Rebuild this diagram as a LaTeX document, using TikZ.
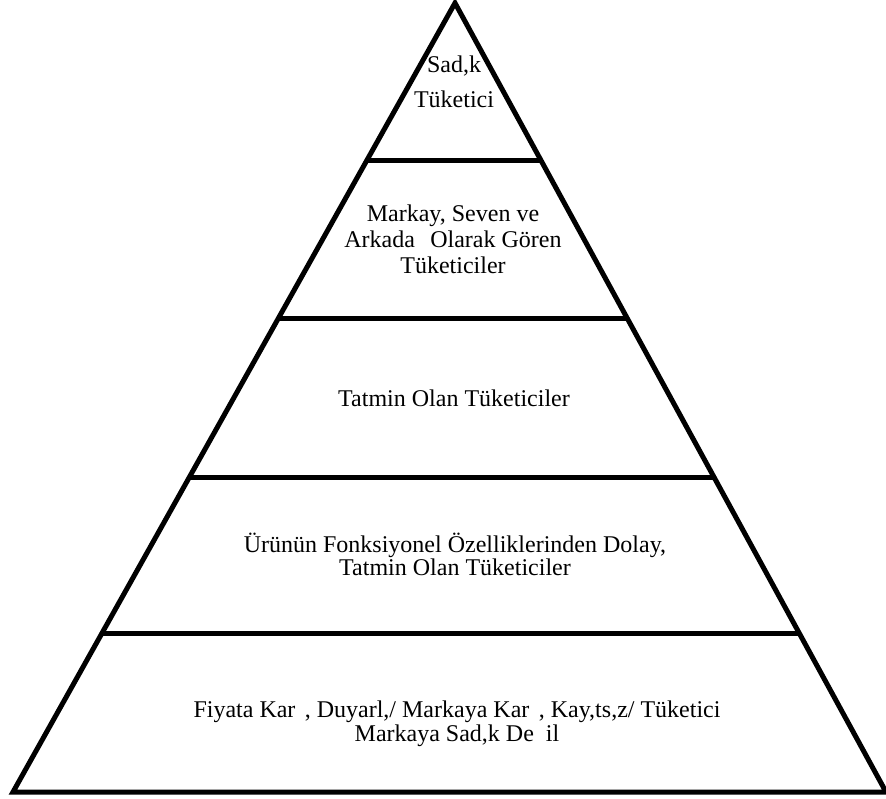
\documentclass[tikz,border=0pt]{standalone}
\usepackage{fontspec}
\setmainfont{Liberation Serif}
\usetikzlibrary{calc}
\begin{document}
\begin{tikzpicture}[x=1pt,y=-1pt,
  edge/.style={line width=5pt,line join=miter},
  tier/.style={line width=5pt},
  label/.style={align=center,inner sep=0pt,font=\fontsize{24}{25}\selectfont}]
\useasboundingbox (0,0) rectangle (886,798);
% outline of the pyramid
\coordinate (apex) at (455,3);
\coordinate (bl) at (13,792);
\coordinate (br) at (886,792);
\draw[edge] (bl) -- (apex) -- (br) -- cycle;
% dividing lines between the tiers
\foreach \n/\t in {1/0.199,2/0.4005,3/0.602,4/0.7997}{
  \coordinate (l\n a) at ($(apex)!\t!(bl)$);
  \coordinate (l\n b) at ($(apex)!\t!(br)$);
  \draw[tier] (l\n a) -- (l\n b);
}
% tier labels
\node[label,font=\fontsize{24}{35}\selectfont] (t1) at (454,82) {Sad,k\\Tüketici};
\node[label,font=\fontsize{24}{26}\selectfont] (t2) at (453,239) {Markay, Seven ve\\Arkada\hspace{0.39em} Olarak Gören\\Tüketiciler};
\node[label] (t3) at (454,398) {Tatmin Olan Tüketiciler};
\node[label,font=\fontsize{24}{23}\selectfont] (t4) at (455,554) {Ürünün Fonksiyonel Özelliklerinden Dolay,\\Tatmin Olan Tüketiciler};
\node[label,font=\fontsize{24}{24}\selectfont] (t5) at (457,724) {Fiyata Kar\hspace{0.39em}, Duyarl,/ Markaya Kar\hspace{0.39em}, Kay,ts,z/ Tüketici\\Markaya Sad,k De\hspace{0.5em}il};
\end{tikzpicture}
\end{document}
